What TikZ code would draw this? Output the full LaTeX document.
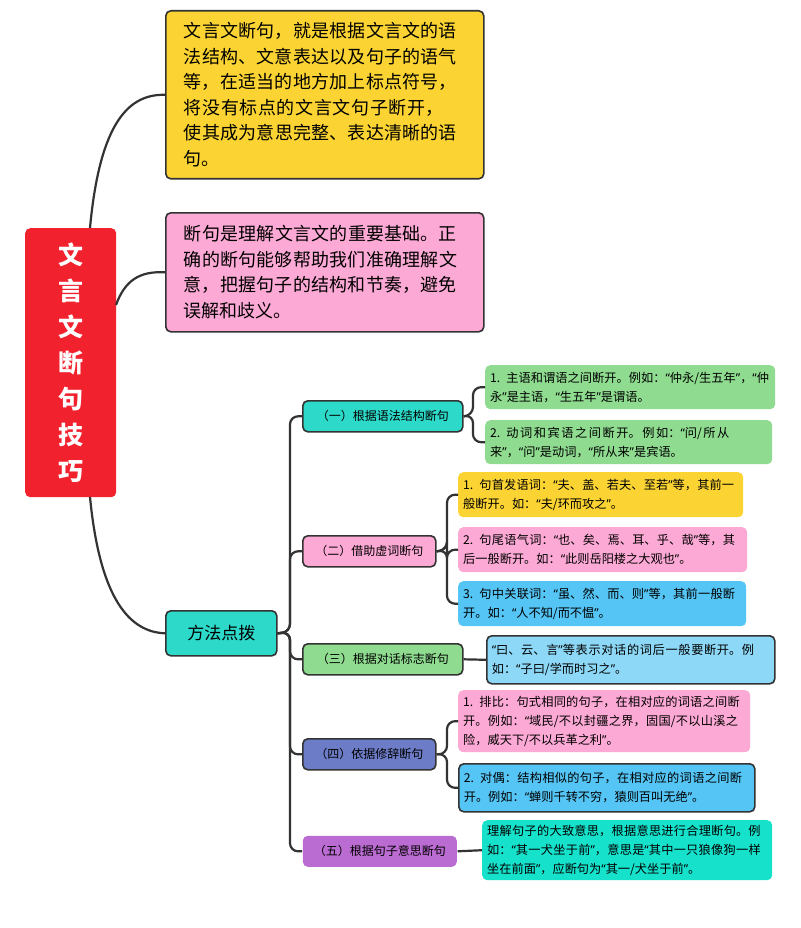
\documentclass[tikz,border=0pt]{standalone}
\usepackage{fontspec}
\setmainfont{Noto Sans CJK SC}
\newfontfamily\latq{Noto Sans}
\newcommand\Q[1]{{\latq “}#1{\latq ”}}
\XeTeXlinebreaklocale "zh"
\XeTeXlinebreakskip=0pt plus 1pt
\begin{document}
\begin{tikzpicture}[x=1pt,y=-1pt,
 box/.style={rounded corners=5pt,inner sep=0pt,align=left,anchor=north west},
 bd/.style={draw=black!80,line width=1.6pt},
 ln/.style={draw=black!80,line width=2.2pt,rounded corners=8pt},
 lf/.style={font=\fontsize{12.2}{19}\selectfont},
 mid/.style={font=\fontsize{12}{15}\selectfont}]
\useasboundingbox (0,0) rectangle (800,928);
\definecolor{cy}{HTML}{FBD433}\definecolor{cp}{HTML}{FDA9D5}
\definecolor{ct}{HTML}{2DDAC9}\definecolor{cg}{HTML}{8FDC90}
\definecolor{cb}{HTML}{55C5F5}\definecolor{cl}{HTML}{8DD8F6}
\definecolor{cv}{HTML}{6D7CC6}\definecolor{cm}{HTML}{BB6CD2}
\definecolor{cr}{HTML}{F2212E}\definecolor{ce}{HTML}{16E2CC}
% root
\node[box,fill=cr,minimum width=91pt,minimum height=269pt] (root) at (25,228) {};
\node[text=white,font=\fontsize{25}{36}\selectfont\bfseries,align=center] (rt) at (root.center) {文\\言\\文\\断\\句\\技\\巧};
% level 1
\node[box,bd,fill=cy,minimum width=318pt,minimum height=168pt,text width=282pt,inner xsep=18pt,font=\fontsize{18}{25.5}\selectfont] (a) at (165,10)
 {文言文断句，就是根据文言文的语法结构、文意表达以及句子的语气等，在适当的地方加上标点符号，将没有标点的文言文句子断开，使其成为意思完整、表达清晰的语句。};
\node[box,bd,fill=cp,minimum width=318pt,minimum height=119pt,text width=282pt,inner xsep=18pt,font=\fontsize{18}{25.5}\selectfont] (b) at (165,212)
 {断句是理解文言文的重要基础。正确的断句能够帮助我们准确理解文意，把握句子的结构和节奏，避免误解和歧义。};
\node[box,bd,fill=ct,minimum width=111pt,minimum height=45pt,align=center,font=\fontsize{17}{18}\selectfont] (f) at (165,610) {方法点拨};
\draw[ln] (90,228) .. controls (100,120) and (130,94) .. (a.west);
\draw[ln] (116,305) .. controls (125,280) and (140,271) .. (b.west);
\draw[ln] (90,497) .. controls (100,600) and (130,632) .. (f.west);
% level 2
\tikzset{l2/.style={box,bd,minimum height=31pt,align=center,mid}}
\node[l2,fill=ct,minimum width=160pt] (n1) at (302,400) {（一）根据语法结构断句};
\node[l2,fill=cp,minimum width=133pt] (n2) at (302,535) {（二）借助虚词断句};
\node[l2,fill=cg,minimum width=160pt] (n3) at (302,643) {（三）根据对话标志断句};
\node[l2,fill=cv,minimum width=133pt] (n4) at (302,738) {（四）依据修辞断句};
\node[l2,draw=none,fill=cm,minimum width=154pt] (n5) at (302,835) {（五）根据句子意思断句};
\coordinate (t) at (290,632);
\foreach \n in {n1,n2,n3,n4,n5} \draw[ln] (f.east) -- (t) |- (\n.west);
% leaves
\tikzset{lv/.style={box,lf,inner xsep=5pt,inner ysep=2pt,minimum height=44pt}}
\node[lv,fill=cg,minimum width=290pt,text width=280pt] (g1) at (485,365) {1. 主语和谓语之间断开。例如：\Q{仲永/生五年}，\Q{仲永}是主语，\Q{生五年}是谓语。};
\node[lv,fill=cg,minimum width=287pt,text width=277pt] (g2) at (485,420) {2. 动词和宾语之间断开。例如：\Q{问/所从来}，\Q{问}是动词，\Q{所从来}是宾语。};
\node[lv,fill=cy,minimum width=285pt,text width=275pt,minimum height=45pt] (y1) at (458,472) {1. 句首发语词：\Q{夫、盖、若夫、至若}等，其前一般断开。如：\Q{夫/环而攻之}。};
\node[lv,fill=cp,minimum width=289pt,text width=279pt,minimum height=45pt] (p2) at (458,527) {2. 句尾语气词：\Q{也、矣、焉、耳、乎、哉}等，其后一般断开。如：\Q{此则岳阳楼之大观也}。};
\node[lv,fill=cb,minimum width=288pt,text width=278pt,minimum height=45pt] (b3) at (458,581) {3. 句中关联词：\Q{虽、然、而、则}等，其前一般断开。如：\Q{人不知/而不愠}。};
\node[lv,bd,fill=cl,minimum width=288pt,text width=278pt,minimum height=48pt] (d1) at (486,635) {\Q{曰、云、言}等表示对话的词后一般要断开。例如：\Q{子曰/学而时习之}。};
\node[lv,fill=cp,minimum width=292pt,text width=282pt,minimum height=62pt] (r1) at (458,690) {1. 排比：句式相同的句子，在相对应的词语之间断开。例如：\Q{域民/不以封疆之界，固国/不以山溪之险，威天下/不以兵革之利}。};
\node[lv,bd,fill=cb,minimum width=296pt,text width=286pt,minimum height=48pt] (r2) at (458,763) {2. 对偶：结构相似的句子，在相对应的词语之间断开。例如：\Q{蝉则千转不穷，猿则百叫无绝}。};
\node[lv,fill=ce,minimum width=290pt,text width=280pt,minimum height=60pt] (e1) at (482,820) {理解句子的大致意思，根据意思进行合理断句。例如：\Q{其一犬坐于前}，意思是\Q{其中一只狼像狗一样坐在前面}，应断句为\Q{其一/犬坐于前}。};
\coordinate (j1) at (473,415);
\foreach \n in {g1,g2} \draw[ln] (n1.east) -- (j1) |- (\n.west);
\coordinate (j2) at (447,550);
\foreach \n in {y1,p2,b3} \draw[ln] (n2.east) -- (j2) |- (\n.west);
\draw[ln] (n3.east) -- (d1.west);
\coordinate (j4) at (447,754);
\foreach \n in {r1,r2} \draw[ln] (n4.east) -- (j4) |- (\n.west);
\draw[ln] (n5.east) -- (e1.west);
\end{tikzpicture}
\end{document}
